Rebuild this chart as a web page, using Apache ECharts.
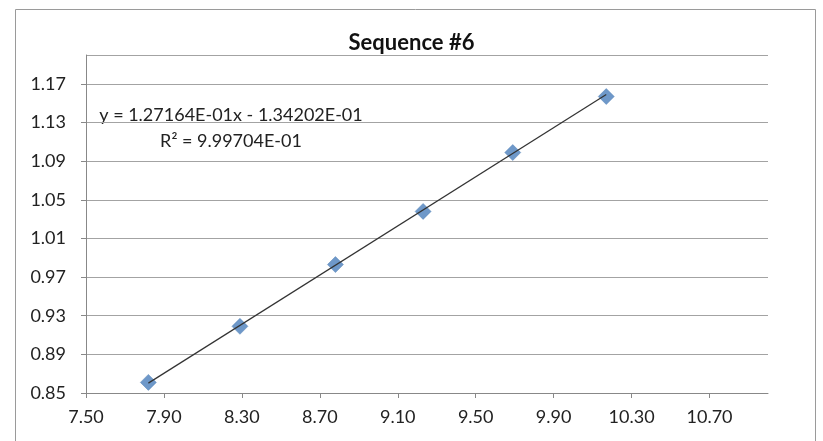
<!DOCTYPE html>
<html>
<head>
<meta charset="utf-8">
<script src="https://cdn.jsdelivr.net/npm/echarts@6/dist/echarts.min.js"></script>
<style>html,body{margin:0;padding:0;background:#fff}#c{width:823px;height:441px}</style>
</head>
<body>
<div id="c"></div>
<script>
var title = 'Sequence #6';
var xValues = [7.82, 8.29, 8.78, 9.23, 9.69, 10.17];
var yValues = [0.861, 0.919, 0.983, 1.038, 1.099, 1.157];
var slope = 0.127164;
var intercept = -0.134202;
var eqText = 'y = 1.27164E-01x - 1.34202E-01';
var r2Text = 'R² = 9.99704E-01';
var xAxisRange = {min: 7.5, max: 11.0, interval: 0.4};
var yAxisRange = {min: 0.85, max: 1.20, interval: 0.04};

var points = xValues.map(function (x, i) { return [x, yValues[i]]; });
var x0 = xValues[0], x1 = xValues[xValues.length - 1];
var trend = [[x0, slope * x0 + intercept], [x1, slope * x1 + intercept]];

var FONT = 'Lato, "Open Sans", sans-serif';
var chart = echarts.init(document.getElementById('c'), null, {renderer: 'canvas'});
chart.setOption({
  animation: false,
  backgroundColor: '#fff',
  title: {
    text: title, left: 'center', top: 27,
    textStyle: {fontFamily: FONT, fontSize: 22, fontWeight: 'bold', color: '#111'}
  },
  grid: {left: 86, right: 55, top: 55, bottom: 48, containLabel: false},
  xAxis: {
    type: 'value', min: xAxisRange.min, max: xAxisRange.max, interval: xAxisRange.interval,
    axisLine: {show: true, onZero: false, lineStyle: {color: '#888', width: 1}},
    axisTick: {show: true, length: 5, inside: false, lineStyle: {color: '#888'}},
    axisLabel: {margin: 15, fontFamily: FONT, fontSize: 18, color: '#222',
      formatter: function (v) { return v.toFixed(2); },
      showMaxLabel: false},
    splitLine: {show: false}
  },
  yAxis: {
    type: 'value', min: yAxisRange.min, max: yAxisRange.max, interval: yAxisRange.interval,
    axisLine: {show: true, onZero: false, lineStyle: {color: '#888', width: 1}},
    axisTick: {show: true, length: 5, inside: false, lineStyle: {color: '#888'}},
    axisLabel: {margin: 20, fontFamily: FONT, fontSize: 18, color: '#222',
      formatter: function (v) { return v.toFixed(2); },
      showMaxLabel: false},
    splitLine: {show: true, lineStyle: {color: '#a3a3a3', width: 1}}
  },
  graphic: [
    {type: 'rect', shape: {x: 15.5, y: 9.5, width: 800, height: 440}, silent: true,
      style: {fill: 'none', stroke: '#9a9a9a', lineWidth: 1}, z: -1},
    {type: 'text', silent: true,
      style: {x: 231, y: 106, text: eqText, fontFamily: FONT, fontSize: 18, fill: '#222',
        textAlign: 'center', textVerticalAlign: 'top'}},
    {type: 'text', silent: true,
      style: {x: 231, y: 132, text: r2Text, fontFamily: FONT, fontSize: 18, fill: '#222',
        textAlign: 'center', textVerticalAlign: 'top'}}
  ],
  series: [
    {type: 'scatter', data: points, symbol: 'diamond', symbolSize: 16,
      itemStyle: {color: '#4a7ebb', borderColor: '#3f72ad', borderWidth: 0.5}, z: 2},
    {type: 'line', data: trend, showSymbol: false, symbol: 'none',
      lineStyle: {color: '#333', width: 1.2}, z: 3, silent: true}
  ]
});
</script>
</body>
</html>
